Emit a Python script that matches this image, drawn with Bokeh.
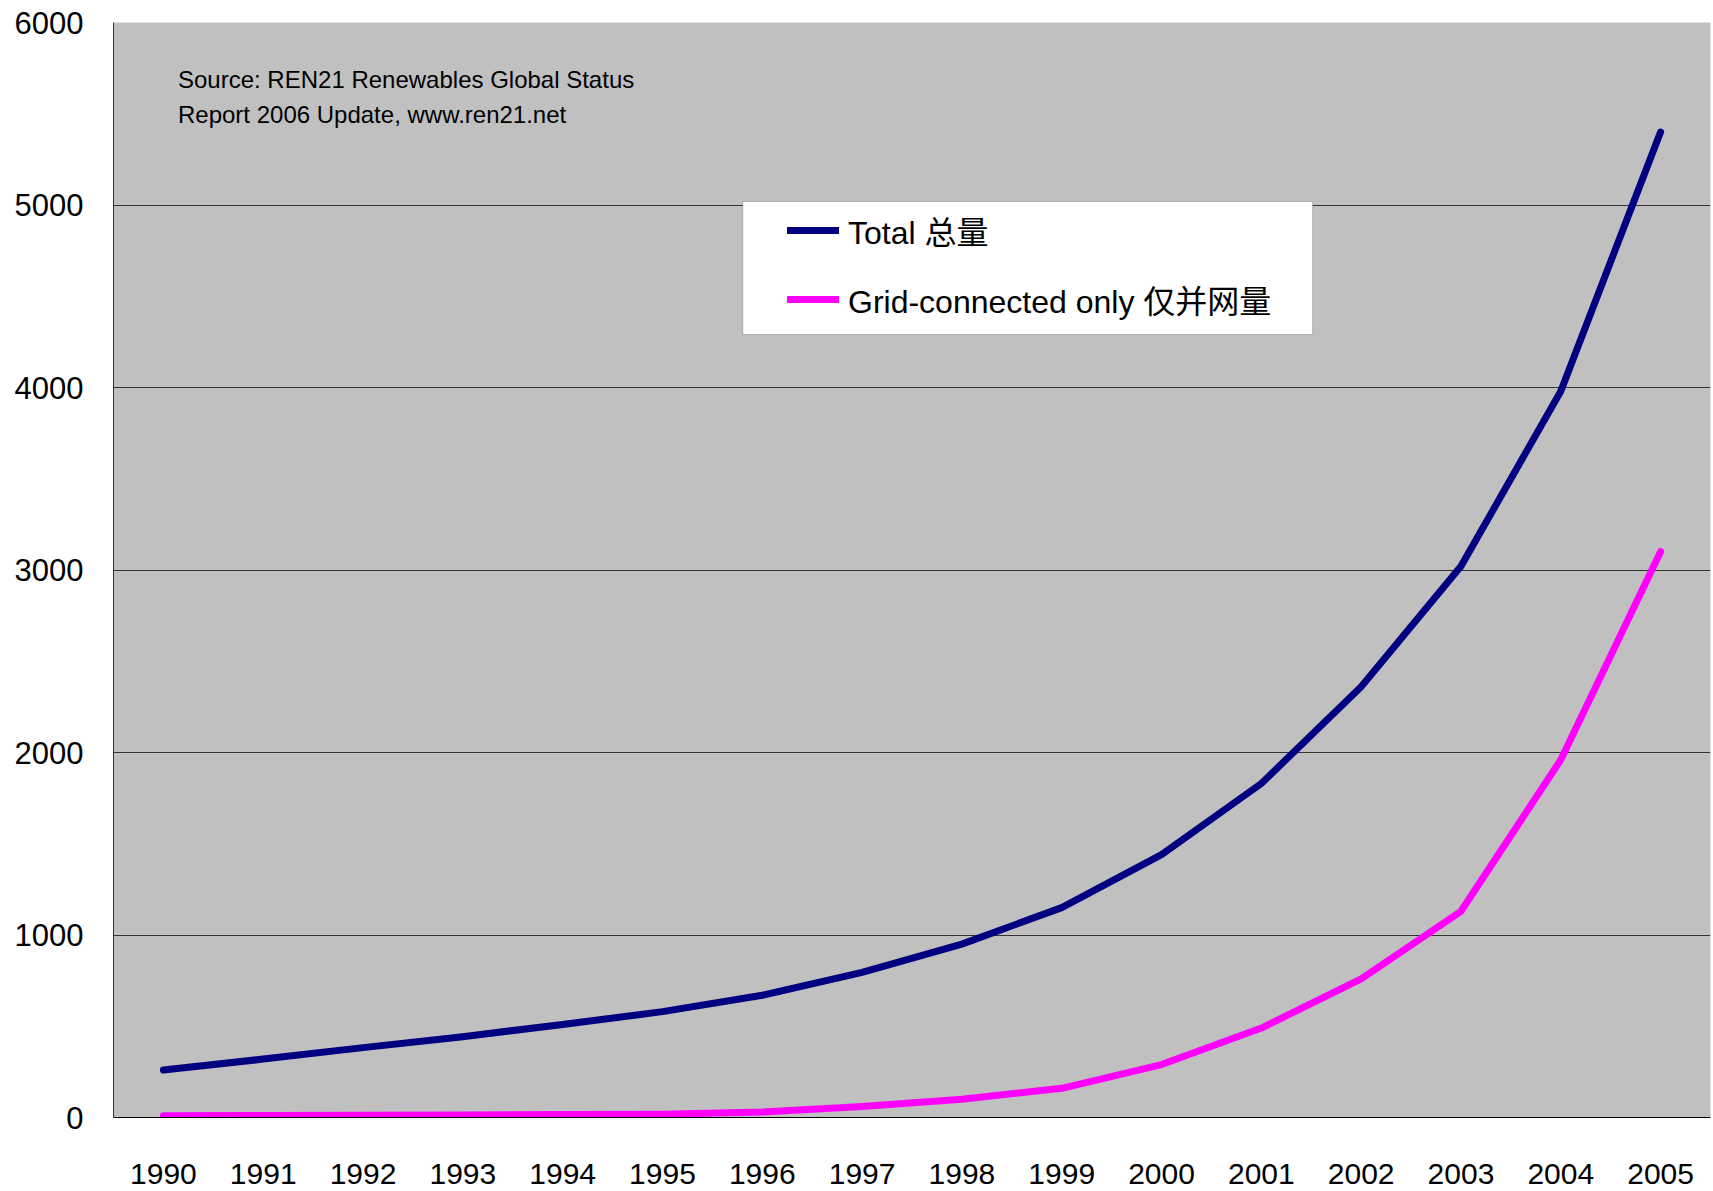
from bokeh.plotting import figure
from bokeh.models import (Legend, LegendItem, BoxAnnotation, Label, FixedTicker,
                          Range1d, NumeralTickFormatter)
from bokeh.embed import file_html
from bokeh.resources import INLINE

# ---- data ----
years = [1990, 1991, 1992, 1993, 1994, 1995, 1996, 1997,
         1998, 1999, 2000, 2001, 2002, 2003, 2004, 2005]
total = [260, 320, 383, 443, 510, 580, 670, 795,
         950, 1150, 1440, 1830, 2360, 3020, 3980, 5400]
grid_connected = [10, 11, 12, 14, 16, 18, 30, 60,
                  100, 160, 290, 490, 760, 1130, 1960, 3100]
year_labels = [str(y) for y in years]
y_ticks = [0, 1000, 2000, 3000, 4000, 5000, 6000]
series_names = ["Total 总量", "Grid-connected only 仅并网量"]
source_lines = ["Source: REN21 Renewables Global Status",
                "Report 2006 Update, www.ren21.net"]

FONT = "'Liberation Sans', 'Noto Sans CJK SC', sans-serif"

p = figure(width=1713, height=1191, output_backend="svg", toolbar_location=None,
           x_range=Range1d(years[0] - 0.5, years[-1] + 0.5),
           y_range=Range1d(0, 6000),
           frame_width=1597, frame_height=1095,
           min_border_left=113, min_border_right=3, min_border_top=22,
           min_border_bottom=74)

p.background_fill_color = "#C0C0C0"
p.border_fill_color = "white"
p.outline_line_color = None

# grid
p.xgrid.grid_line_color = None
p.ygrid.grid_line_color = "#333333"
p.ygrid.grid_line_width = 1
p.ygrid.ticker = FixedTicker(ticks=y_ticks)

# axes
p.yaxis.ticker = FixedTicker(ticks=y_ticks)
p.yaxis.formatter = NumeralTickFormatter(format="0")
p.yaxis.major_label_text_font = FONT
p.yaxis.major_label_text_font_size = "31px"
p.yaxis.major_label_text_color = "black"
p.yaxis.major_label_standoff = 24
p.yaxis.axis_line_color = "#333333"
p.yaxis.major_tick_line_color = None
p.yaxis.minor_tick_line_color = None

p.xaxis.ticker = FixedTicker(ticks=years)
p.xaxis.major_label_overrides = {y: s for y, s in zip(years, year_labels)}
p.xaxis.major_label_text_font = FONT
p.xaxis.major_label_text_font_size = "30px"
p.xaxis.major_label_text_color = "black"
p.xaxis.major_label_standoff = 40
p.xaxis.axis_line_color = "black"
p.xaxis.major_tick_line_color = None
p.xaxis.minor_tick_line_color = None

# lines
r_total = p.line(years, total, line_color="#000080", line_width=7,
                 line_cap="round", line_join="round")
r_grid = p.line(years, grid_connected, line_color="#FF00FF", line_width=7,
                line_cap="round", line_join="round")

# legend frame
box = BoxAnnotation(left=1995.805, right=2001.514, bottom=4290, top=5019,
                    fill_color="white", fill_alpha=1.0,
                    line_color="#444444", line_width=1)
p.add_layout(box)

legend = Legend(items=[LegendItem(label=series_names[0], renderers=[r_total]),
                       LegendItem(label=series_names[1], renderers=[r_grid])],
                location=(674, 795), orientation="vertical",
                border_line_color=None, background_fill_alpha=0,
                label_text_font=FONT, label_text_font_size="32px",
                label_text_color="black",
                glyph_width=52, glyph_height=36, label_height=36,
                label_standoff=9, spacing=23, padding=10, margin=0)
p.add_layout(legend)

# source note
for txt, yv in zip(source_lines, [5688, 5496]):
    p.add_layout(Label(x=1990.146, y=yv, text=txt, text_font=FONT,
                       text_font_size="24px", text_font_style="normal",
                       text_baseline="middle", text_align="left",
                       text_color="black"))

open("out.html", "w").write(file_html(p, INLINE))
